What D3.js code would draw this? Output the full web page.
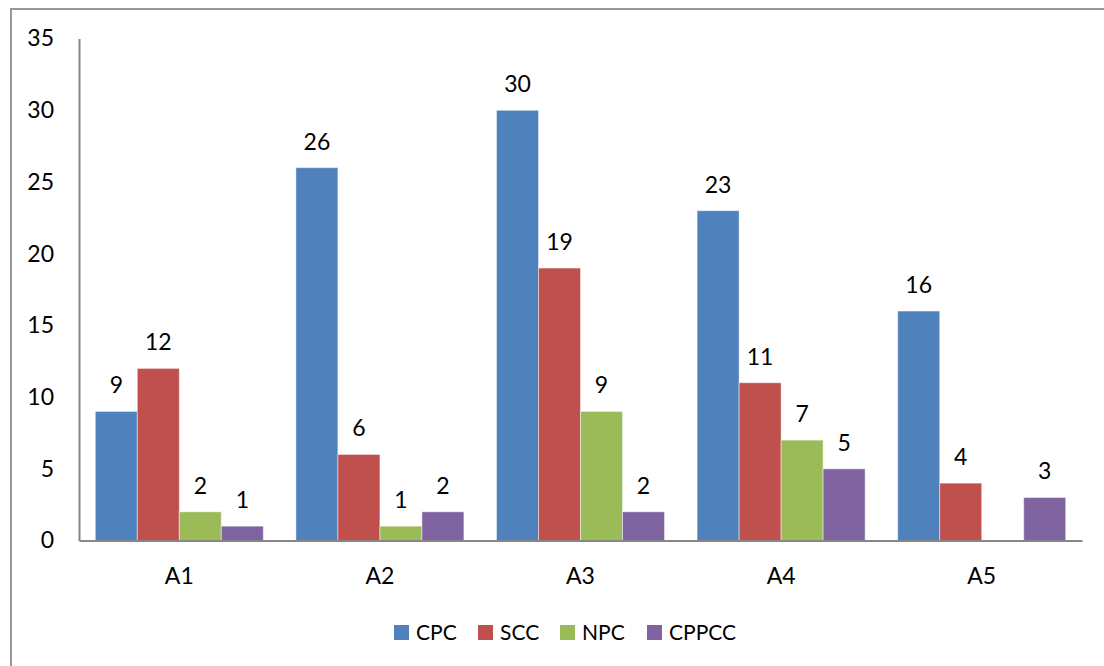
<!DOCTYPE html>
<html>
<head>
<meta charset="utf-8">
<script src="https://cdn.jsdelivr.net/npm/d3@7"></script>
<style>
  html, body { margin: 0; padding: 0; background: #fff; }
  svg { display: block; font-family: Lato, "Open Sans", sans-serif; }
</style>
</head>
<body>
<svg id="chart" width="1104" height="666"></svg>
<script>
// Categories and series
const categories = ["A1", "A2", "A3", "A4", "A5"];
const seriesNames = ["CPC", "SCC", "NPC", "CPPCC"];
const cpc   = [9, 26, 30, 23, 16];
const scc   = [12, 6, 19, 11, 4];
const npc   = [2, 1, 9, 7, null];
const cppcc = [1, 2, 2, 5, 3];
const yTicks = [0, 5, 10, 15, 20, 25, 30, 35];
const colors = ["#4F81BD", "#C0504D", "#9BBB59", "#8064A2"];

const seriesValues = [cpc, scc, npc, cppcc];
const rows = categories.map((c, i) => ({
  cat: c,
  vals: seriesNames.map((s, j) => ({ key: s, value: seriesValues[j][i] }))
}));

const svg = d3.select("#chart");

// Outer chart frame
svg.append("rect")
  .attr("x", 11).attr("y", 9)
  .attr("width", 1104).attr("height", 680)
  .attr("fill", "none")
  .attr("stroke", "#999")
  .attr("stroke-width", 2);

const plot = { left: 79, right: 1082, top: 38.6, bottom: 540.5 };

const x0 = d3.scaleBand()
  .domain(categories)
  .range([plot.left, plot.right])
  .padding(0);

const x1 = d3.scaleBand()
  .domain(seriesNames)
  .range([16.3, x0.bandwidth() - 16.3])
  .padding(0);

const y = d3.scaleLinear()
  .domain([0, 35])
  .range([plot.bottom, plot.top]);

const color = d3.scaleOrdinal().domain(seriesNames).range(colors);

// Bars
const groups = svg.append("g").selectAll("g")
  .data(rows)
  .join("g")
  .attr("transform", d => `translate(${x0(d.cat)},0)`);

groups.selectAll("rect")
  .data(d => d.vals.filter(v => v.value != null))
  .join("rect")
  .attr("x", d => x1(d.key))
  .attr("y", d => y(d.value))
  .attr("width", x1.bandwidth())
  .attr("height", d => y(0) - y(d.value))
  .attr("fill", d => color(d.key))
  .attr("stroke", "rgba(255,255,255,0.45)")
  .attr("stroke-width", 1);

// Value labels
groups.selectAll("text")
  .data(d => d.vals.filter(v => v.value != null))
  .join("text")
  .attr("x", d => x1(d.key) + x1.bandwidth() / 2)
  .attr("y", d => y(d.value) - 18)
  .attr("text-anchor", "middle")
  .attr("font-size", 23)
  .attr("fill", "#000")
  .text(d => d.value);

// Y axis
const yAxis = d3.axisLeft(y).tickValues(yTicks).tickSize(0).tickPadding(25);
const yG = svg.append("g")
  .attr("transform", `translate(${plot.left},0)`)
  .call(yAxis);
yG.select(".domain").attr("stroke", "#868686").attr("stroke-width", 2);
yG.selectAll("text")
  .attr("font-size", 23)
  .attr("font-family", "Lato, 'Open Sans', sans-serif")
  .attr("fill", "#000");

// X axis
const xAxis = d3.axisBottom(x0).tickSize(0).tickPadding(27);
const xG = svg.append("g")
  .attr("transform", `translate(0,${plot.bottom})`)
  .call(xAxis);
xG.select(".domain").attr("stroke", "#868686").attr("stroke-width", 2);
xG.selectAll("text")
  .attr("font-size", 23)
  .attr("font-family", "Lato, 'Open Sans', sans-serif")
  .attr("fill", "#000");

// Legend
const legendX = [394, 478, 560, 647];
const legend = svg.append("g").selectAll("g")
  .data(seriesNames)
  .join("g")
  .attr("transform", (d, i) => `translate(${legendX[i]},625)`);
legend.append("rect")
  .attr("width", 15).attr("height", 15)
  .attr("fill", d => color(d));
legend.append("text")
  .attr("x", 22).attr("y", 14.5)
  .attr("font-size", 21)
  .attr("fill", "#000")
  .text(d => d);
</script>
</body>
</html>
